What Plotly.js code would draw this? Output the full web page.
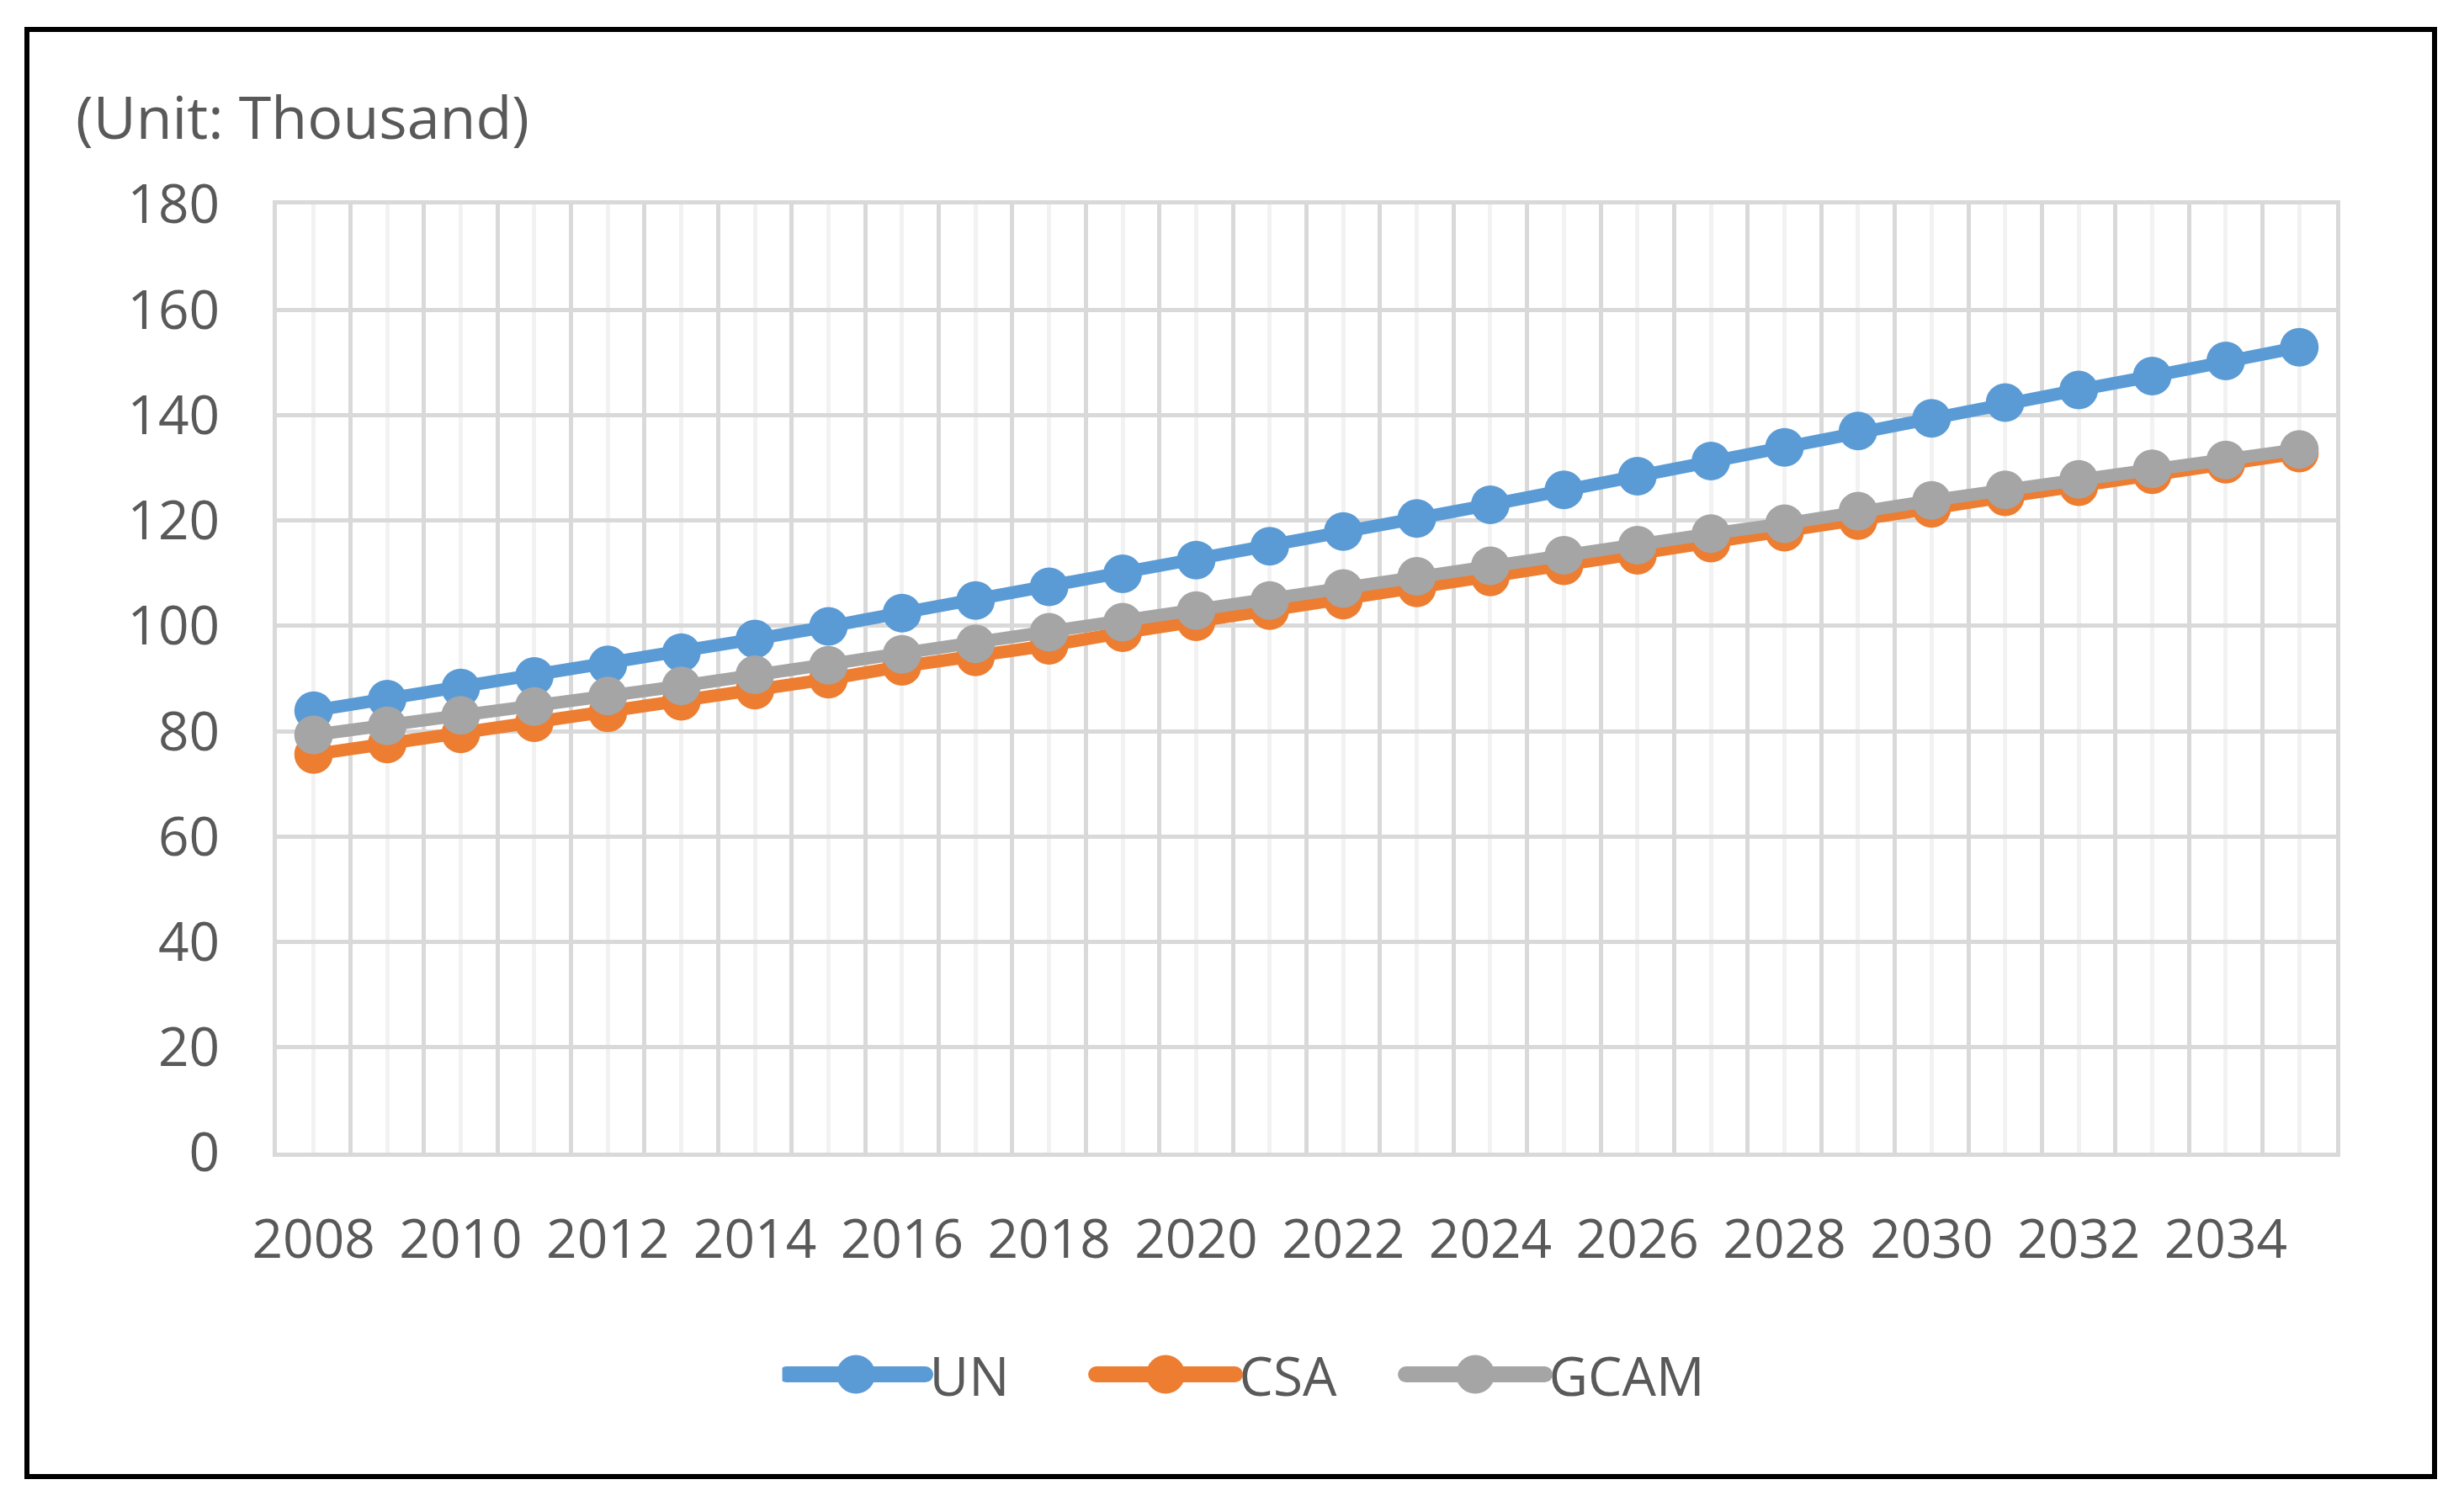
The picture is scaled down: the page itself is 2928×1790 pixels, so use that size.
<!DOCTYPE html>
<html>
<head>
<meta charset="utf-8">
<script src="https://cdn.plot.ly/plotly-3.0.1.min.js"></script>
<style>
  html, body { margin: 0; padding: 0; background: #ffffff; }
  #chart { position: absolute; left: 0; top: 0; width: 2928px; height: 1790px; }
  #frame { position: absolute; left: 29px; top: 32px; width: 2867px; height: 1726px;
           box-sizing: border-box; border: 6px solid #000000; pointer-events: none; }
</style>
</head>
<body>
<div id="chart"></div>
<div id="frame"></div>
<script>
// ---- data ----
var years = [2008, 2009, 2010, 2011, 2012, 2013, 2014, 2015, 2016, 2017, 2018, 2019, 2020, 2021,
             2022, 2023, 2024, 2025, 2026, 2027, 2028, 2029, 2030, 2031, 2032, 2033, 2034, 2035];
var tickLabels = ["2008", "", "2010", "", "2012", "", "2014", "", "2016", "", "2018", "", "2020", "",
                  "2022", "", "2024", "", "2026", "", "2028", "", "2030", "", "2032", "", "2034", ""];
var unValues = [83.9, 86.1, 88.2, 90.4, 92.6, 94.9, 97.5, 99.9, 102.4, 104.8, 107.4, 109.9, 112.5, 115.1,
                117.9, 120.4, 123.0, 125.8, 128.4, 131.3, 133.9, 137.0, 139.4, 142.4, 144.8, 147.4, 150.3, 152.9];
var csaValues = [75.6, 77.6, 79.5, 81.6, 83.5, 85.7, 87.8, 89.9, 92.3, 94.1, 96.3, 98.7, 100.8, 102.9,
                 104.9, 107.2, 109.3, 111.4, 113.4, 115.7, 117.8, 120.0, 122.3, 124.5, 126.4, 128.7, 130.7, 132.8];
var gcamValues = [79.3, 81.0, 83.0, 84.7, 86.7, 88.6, 90.7, 92.5, 94.6, 96.6, 98.8, 100.7, 102.9, 104.8,
                  107.1, 109.4, 111.4, 113.4, 115.3, 117.5, 119.4, 121.8, 123.8, 125.8, 127.8, 129.8, 131.5, 133.5];
var seriesNames = ["UN", "CSA", "GCAM"];
var seriesColors = ["#5b9bd5", "#ed7d31", "#a5a5a5"];
var yTitle = "(Unit: Thousand)";

var textColor = "#595959";
var fontFam = "'Open Sans', 'Noto Sans', sans-serif";
var lineW = 15, markerSize = 46, legendLineW = 19;

function mk(i, vals) {
  return {
    type: "scatter", mode: "lines+markers",
    x: years, y: vals, name: seriesNames[i],
    line: { color: seriesColors[i], width: lineW },
    marker: { color: seriesColors[i], size: markerSize, symbol: "circle" },
    cliponaxis: false
  };
}
var data = [mk(0, unValues), mk(1, csaValues), mk(2, gcamValues)];

var layout = {
  width: 2928, height: 1790,
  margin: { l: 329, r: 152, t: 243, b: 420, pad: 0 },
  paper_bgcolor: "#ffffff", plot_bgcolor: "#ffffff",
  font: { family: fontFam, color: textColor, size: 64 },
  title: {
    text: yTitle, xref: "container", yref: "container",
    x: 90 / 2928, xanchor: "left", y: 1 - 140 / 1790, yanchor: "middle",
    font: { family: fontFam, size: 70, color: textColor }
  },
  showlegend: true,
  legend: {
    orientation: "h", xref: "container", yref: "container",
    x: 0.506, xanchor: "center", y: 1 - 1634 / 1790, yanchor: "middle",
    font: { family: fontFam, size: 64, color: textColor },
    itemwidth: 165, itemsizing: "trace", tracegroupgap: 0,
    entrywidth: 188, entrywidthmode: "pixels",
    bgcolor: "rgba(0,0,0,0)"
  },
  xaxis: {
    type: "linear", range: [2007.5, 2035.5], fixedrange: true,
    tickmode: "array", tickvals: years, ticktext: tickLabels,
    ticks: "", ticklabelstandoff: 43,
    tickfont: { family: fontFam, size: 64, color: textColor },
    showgrid: true, gridcolor: "#f2f2f2", gridwidth: 5,
    minor: { tick0: 2007.5, dtick: 1, showgrid: true, gridcolor: "#d9d9d9", gridwidth: 5, ticks: "" },
    zeroline: false, showline: true, mirror: true, linecolor: "#d9d9d9", linewidth: 5
  },
  yaxis: {
    range: [0, 180], dtick: 20, tick0: 0, fixedrange: true,
    ticks: "", ticklabelstandoff: 50,
    tickfont: { family: fontFam, size: 64, color: textColor },
    showgrid: true, gridcolor: "#d9d9d9", gridwidth: 5,
    zeroline: false, showline: true, mirror: true, linecolor: "#d9d9d9", linewidth: 5
  }
};

function styleLegend() {
  var r = markerSize / 2;
  var gd = document.getElementById("chart");
  gd.querySelectorAll(".legend path.js-line").forEach(function (p) {
    p.style.strokeWidth = legendLineW + "px";
    p.style.strokeLinecap = "round";
  });
  gd.querySelectorAll(".legend path.scatterpts").forEach(function (p) {
    p.setAttribute("d", "M" + r + ",0A" + r + "," + r + " 0 1,1 0,-" + r + "A" + r + "," + r + " 0 0,1 " + r + ",0Z");
  });
}

Plotly.newPlot("chart", data, layout, { staticPlot: true, displayModeBar: false }).then(styleLegend);
</script>
</body>
</html>
